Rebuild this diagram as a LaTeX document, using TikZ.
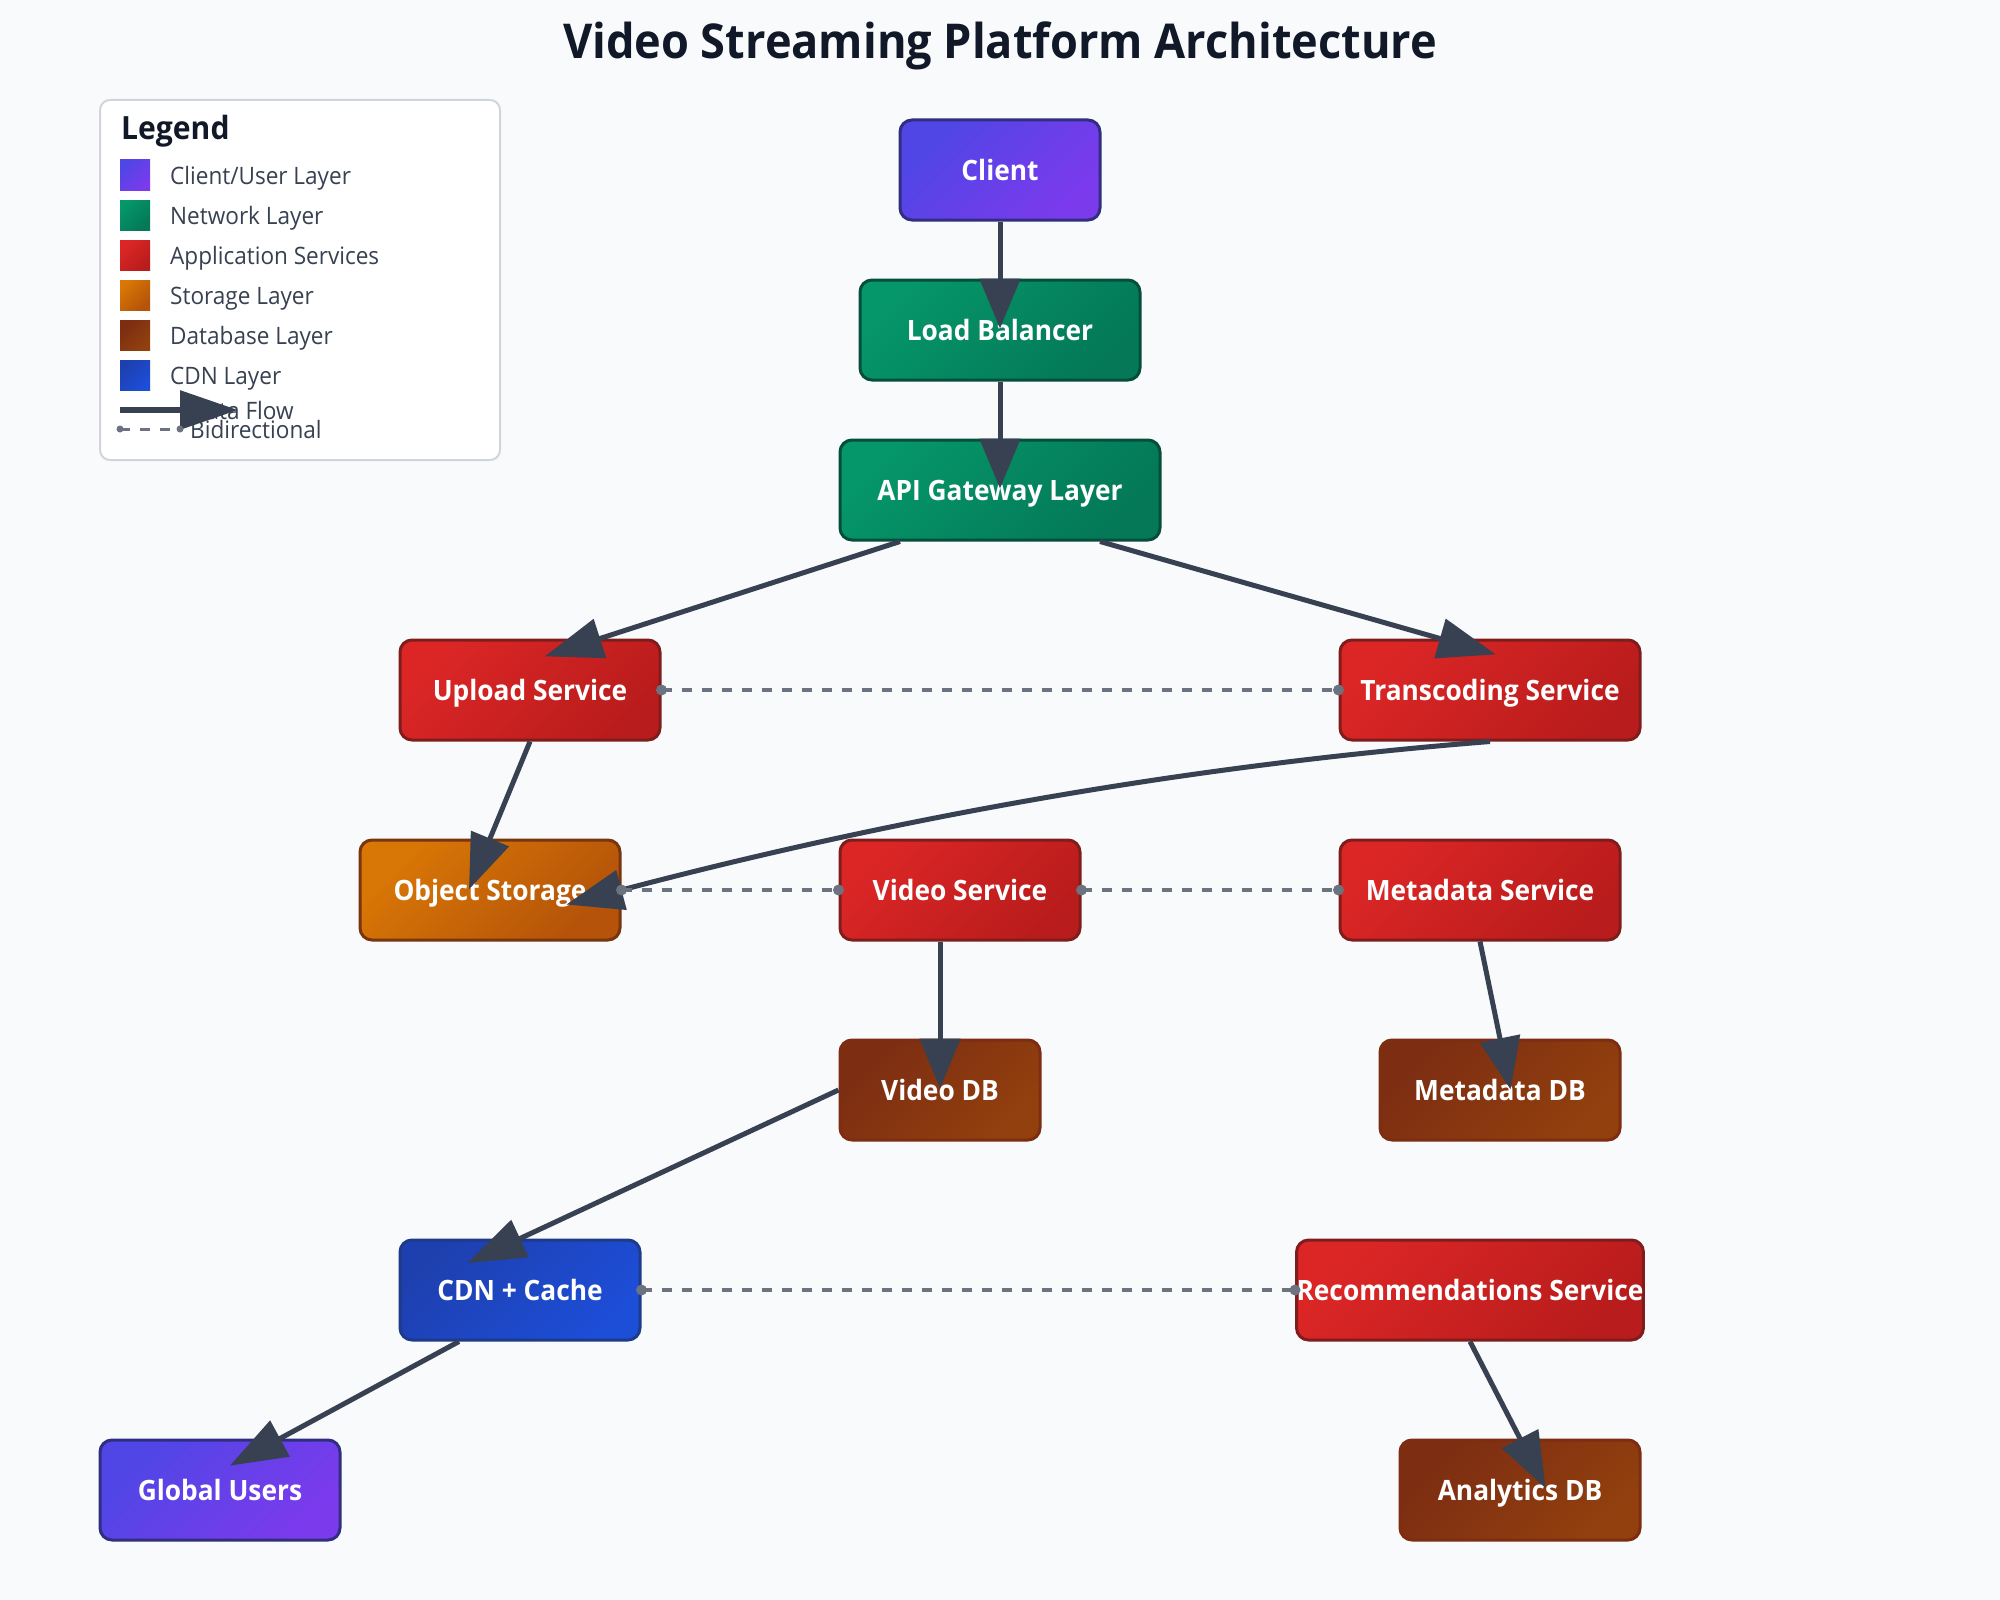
\documentclass[tikz,border=0pt]{standalone}
\usepackage{fontspec}
\setmainfont{Open Sans}[FakeStretch=0.94]
\usetikzlibrary{arrows.meta,calc}
\definecolor{bg}{HTML}{F8FAFC}
\definecolor{titlec}{HTML}{111827}
\definecolor{legtextc}{HTML}{374151}
\definecolor{legborder}{HTML}{D1D5DB}
\definecolor{edgec}{HTML}{374151}
\definecolor{dashc}{HTML}{6B7280}
\definecolor{clientA}{HTML}{4F46E5}
\definecolor{clientB}{HTML}{7C3AED}
\definecolor{clientD}{HTML}{312E81}
\definecolor{netA}{HTML}{059669}
\definecolor{netB}{HTML}{047857}
\definecolor{netD}{HTML}{064E3B}
\definecolor{appA}{HTML}{DC2626}
\definecolor{appB}{HTML}{B91C1C}
\definecolor{appD}{HTML}{7F1D1D}
\definecolor{stoA}{HTML}{D97706}
\definecolor{stoB}{HTML}{B45309}
\definecolor{stoD}{HTML}{78350F}
\definecolor{dbA}{HTML}{7C2D12}
\definecolor{dbB}{HTML}{92400E}
\definecolor{dbD}{HTML}{7C2D12}
\definecolor{cdnA}{HTML}{1E40AF}
\definecolor{cdnB}{HTML}{1D4ED8}
\definecolor{cdnD}{HTML}{1E3A8A}
\tikzset{
  box/.style={rectangle, rounded corners=12pt, line width=3pt, minimum height=100pt,
    inner sep=0pt, text=white, text height=20pt, text depth=0pt,
    font=\fontsize{28}{34}\selectfont\bfseries},
  clientfill/.style={top color=clientA, bottom color=clientB, shading angle=45},
  netfill/.style={top color=netA, bottom color=netB, shading angle=45},
  appfill/.style={top color=appA, bottom color=appB, shading angle=45},
  stofill/.style={top color=stoA, bottom color=stoB, shading angle=45},
  dbfill/.style={top color=dbA, bottom color=dbB, shading angle=45},
  cdnfill/.style={top color=cdnA, bottom color=cdnB, shading angle=45},
  clientbox/.style={box, draw=clientD, clientfill},
  netbox/.style={box, draw=netD, netfill},
  appbox/.style={box, draw=appD, appfill},
  stobox/.style={box, draw=stoD, stofill},
  dbbox/.style={box, draw=dbD, dbfill},
  cdnbox/.style={box, draw=cdnD, cdnfill},
  flow/.style={draw=edgec, line width=5pt, -{Triangle[length=#1,width=40pt]}, shorten >=-#1},
  flow/.default=50pt,
  bidir/.style={draw=dashc, line width=4pt, dash pattern=on 10pt off 10pt},
  enddot/.style={fill=dashc},
  swatch/.style={rectangle, minimum size=30pt, inner sep=0pt},
  legtext/.style={anchor=base west, inner sep=0pt, text=legtextc, font=\fontsize{24}{29}\selectfont},
}
\begin{document}
\begin{tikzpicture}[x=1pt,y=-1pt]
\useasboundingbox (0,0) rectangle (2000,1600);
\fill[bg] (0,0) rectangle (2000,1600);

% title
\node[anchor=base, inner sep=0pt, text=titlec, font=\fontsize{48}{56}\selectfont\bfseries] (title) at (1000,59) {Video Streaming Platform Architecture};

% legend
\node[draw=legborder, fill=white, line width=2pt, rounded corners=10pt, minimum width=400pt, minimum height=360pt, inner sep=0pt] (legend) at (300,280) {};
\node[anchor=base west, inner sep=0pt, text=titlec, font=\fontsize{32}{38}\selectfont\bfseries] (legtitle) at (121,140) {Legend};
\node[swatch, clientfill] (sw1) at (135,175) {};
\node[swatch, netfill] (sw2) at (135,215) {};
\node[swatch, appfill] (sw3) at (135,255) {};
\node[swatch, stofill] (sw4) at (135,295) {};
\node[swatch, dbfill] (sw5) at (135,335) {};
\node[swatch, cdnfill] (sw6) at (135,375) {};
\node[legtext] (lt1) at (170,184) {Client/User Layer};
\node[legtext] (lt2) at (170,224) {Network Layer};
\node[legtext] (lt3) at (170,264) {Application Services};
\node[legtext] (lt4) at (170,304) {Storage Layer};
\node[legtext] (lt5) at (170,344) {Database Layer};
\node[legtext] (lt6) at (170,384) {CDN Layer};
\node[legtext] (lt7) at (190,419) {Data Flow};
\node[legtext] (lt8) at (190,438) {Bidirectional};
\coordinate (la1) at (120,410);
\coordinate (la2) at (180,410);
\draw[draw=edgec, line width=6pt, -{Triangle[length=58pt,width=38pt]}, shorten >=-58pt] (la1) -- (la2);
\coordinate (lb1) at (120,429);
\coordinate (lb2) at (180,429);
\draw[draw=dashc, line width=3pt, dash pattern=on 10pt off 10pt] (lb1) -- (lb2);
\fill[enddot] (lb1) circle (3.5pt);
\fill[enddot] (lb2) circle (3.5pt);

% nodes
\node[clientbox, minimum width=200pt] (client) at (1000,170) {Client};
\node[netbox, minimum width=280pt] (lb) at (1000,330) {Load Balancer};
\node[netbox, minimum width=320pt] (api) at (1000,490) {API Gateway Layer};
\node[appbox, minimum width=260pt] (upload) at (530,690) {Upload Service};
\node[appbox, minimum width=300pt] (trans) at (1490,690) {Transcoding Service};
\node[stobox, minimum width=260pt] (obj) at (490,890) {Object Storage};
\node[appbox, minimum width=240pt] (video) at (960,890) {Video Service};
\node[appbox, minimum width=280pt] (meta) at (1480,890) {Metadata Service};
\node[dbbox, minimum width=200pt] (videodb) at (940,1090) {Video DB};
\node[dbbox, minimum width=240pt] (metadb) at (1500,1090) {Metadata DB};
\node[cdnbox, minimum width=240pt] (cdn) at (520,1290) {CDN + Cache};
\node[appbox, minimum width=340pt] (recs) at (1470,1290) {Recommendations Service};
\node[clientbox, minimum width=240pt] (global) at (220,1490) {Global Users};
\node[dbbox, minimum width=240pt] (analytics) at (1520,1490) {Analytics DB};

% data flow edges
\draw[flow] (client.south) -- (lb.north);
\draw[flow] (lb.south) -- (api.north);
\draw[flow=58pt] ([xshift=-100pt]api.south) -- ([xshift=70pt]upload.north);
\draw[flow=58pt] ([xshift=100pt]api.south) -- ([xshift=-50pt]trans.north);
\draw[flow=55pt] (upload.south) -- (obj.north);
\draw[flow=57pt] (trans.south) .. controls (1196,765) and (906,815) .. (obj.east);
\draw[flow] ([xshift=-20pt]video.south) -- (videodb.north);
\draw[flow=52pt] (meta.south) -- (metadb.north);
\draw[flow=58pt] (videodb.west) -- (cdn.north);
\draw[flow=57pt] ([xshift=-61pt]cdn.south) -- ([xshift=60pt]global.north);
\draw[flow=56pt] (recs.south) -- (analytics.north);

% bidirectional edges
\draw[bidir] (upload.east) -- (trans.west);
\draw[bidir] (obj.east) -- (video.west);
\draw[bidir] (video.east) -- (meta.west);
\draw[bidir] (cdn.east) -- (recs.west);
\foreach \p in {upload.east, trans.west, obj.east, video.west, video.east, meta.west, cdn.east, recs.west}
  \fill[enddot] (\p) circle (5.5pt);
\end{tikzpicture}
\end{document}
